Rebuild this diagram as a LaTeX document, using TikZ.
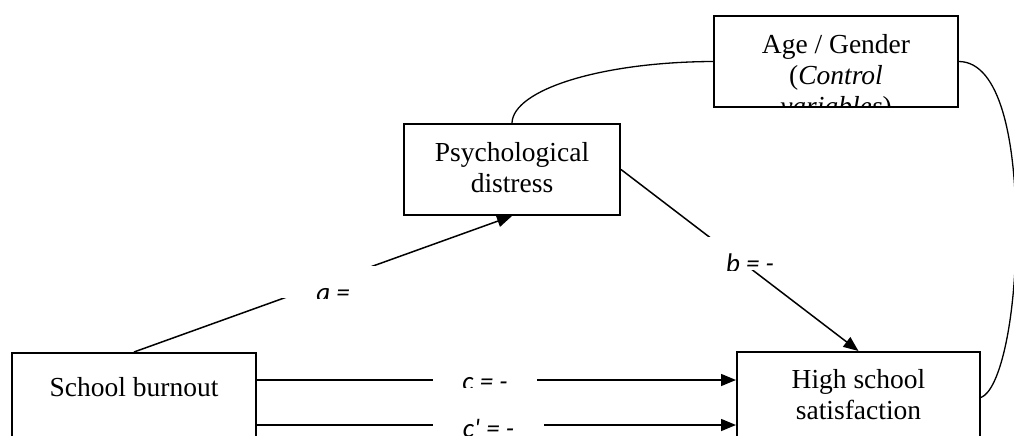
\documentclass[tikz,border=0pt]{standalone}
\usepackage{fontspec}
\setmainfont{Liberation Serif}
\newfontfamily\coeffont{Carlito}
\usetikzlibrary{arrows.meta}

\tikzset{
  box/.style={draw, line width=2pt, fill=white, minimum width=#1, minimum height=91pt, inner sep=0pt},
  boxtext/.style={draw=none, fill=none, minimum width=0pt, minimum height=0pt, font=\fontsize{27.5}{31}\selectfont, align=center, inner sep=0pt, anchor=north},
  coef/.style={fill=white, inner sep=0pt},
  coeftext/.style={draw=none, fill=none, minimum width=0pt, minimum height=0pt, font=\coeffont\itshape\fontsize{27}{30}\selectfont, inner sep=0pt, anchor=base},
  link/.style={line width=1.5pt, -{Triangle[length=15pt,width=12pt]}},
  cov/.style={line width=1.3pt},
}

\begin{document}
\begin{tikzpicture}[x=1pt, y=-1pt]
  \useasboundingbox (0,0) rectangle (1014,436);

  % variables
  \node[box=244pt, path picture={\node[boxtext] (age-t) at ([yshift=-17.6pt]path picture bounding box.north) {Age / Gender\\(\textit{Control}\\\textit{variables})};}] (age) at (836,61.5) {};
  \node[box=216pt, path picture={\node[boxtext] (psych-t) at ([yshift=-17.6pt]path picture bounding box.north) {Psychological\\distress};}] (psych) at (512,169.5) {};
  \node[box=244pt, path picture={\node[boxtext] (burnout-t) at ([yshift=-23.6pt]path picture bounding box.north) {School burnout};}] (burnout) at (134,398.5) {};
  \node[box=243pt, path picture={\node[boxtext] (hss-t) at ([yshift=-16.6pt]path picture bounding box.north) {High school\\satisfaction};}] (hss) at (858.5,397.5) {};

  % paths a, b, c, c'
  \draw[link] (burnout.north) -- (psych.south);
  \draw[link] (psych.east) -- (hss.north);
  \draw[link] ([yshift=18.5pt]burnout.east) -- ([yshift=17.5pt]hss.west);
  \draw[link] ([yshift=-26.5pt]burnout.east) -- ([yshift=-27.5pt]hss.west);

  % controls
  \draw[cov] (psych.north) .. controls (513,90) and (600,62) .. (age.west);
  \draw[cov] (age.east) .. controls (1000,62) and (1016,140) .. (1016,230)
    .. controls (1016,320) and (1000,390) .. (hss.east);

  % coefficients
  \node[coef, minimum width=102pt, minimum height=32pt, path picture={\node[coeftext] (la-t) at ([yshift=-3pt]path picture bounding box.south) {a =};}] (la) at (333,282) {};
  \node[coef, minimum width=100pt, minimum height=33pt, path picture={\node[coeftext] (lb-t) at ([yshift=-2pt]path picture bounding box.south) {b = -};}] (lb) at (750,253.5) {};
  \node[coef, minimum width=104pt, minimum height=27pt, path picture={\node[coeftext] (lc-t) at ([yshift=-3pt]path picture bounding box.south) {c = -};}] (lc) at (485,373.5) {};
  \node[coef, minimum width=111pt, minimum height=40pt, path picture={\node[coeftext] (lcp-t) at ([yshift=7.5pt]path picture bounding box.south) {c\textquotesingle{} = -};}] (lcp) at (488.5,425) {};

\end{tikzpicture}
\end{document}
